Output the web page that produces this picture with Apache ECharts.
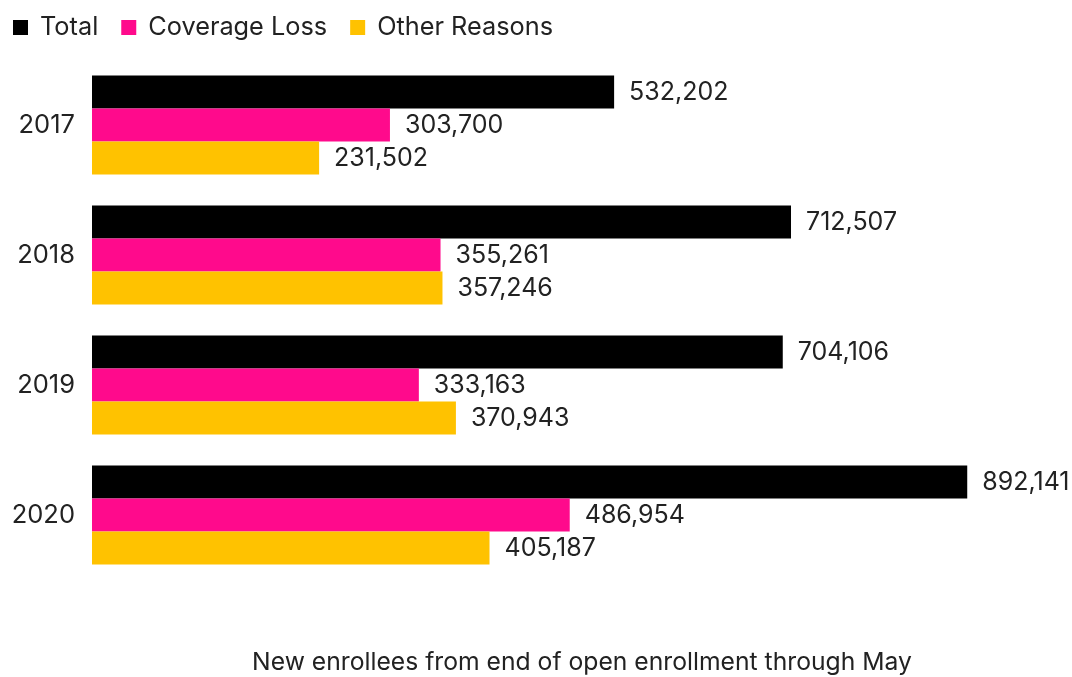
<!DOCTYPE html>
<html><head><meta charset="utf-8">
<script src="https://cdn.jsdelivr.net/npm/echarts@6/dist/echarts.min.js"></script>
<style>html,body{margin:0;padding:0;background:#fff}#c{width:1072px;height:677px}</style>
</head><body><div id="c"></div>
<script>
const categories = ['2017', '2018', '2019', '2020'];
const total = [532202, 712507, 704106, 892141];
const coverageLoss = [303700, 355261, 333163, 486954];
const otherReasons = [231502, 357246, 370943, 405187];
const seriesNames = ['Total', 'Coverage Loss', 'Other Reasons'];
const colors = ['#000000', '#ff0a8c', '#ffc200'];
const axisTitle = 'New enrollees from end of open enrollment through May';

const font = 'Inter, Arial, sans-serif';
const fmt = v => v.toLocaleString('en-US');
const chart = echarts.init(document.getElementById('c'));
const mk = (name, data, color) => ({
  name, type: 'bar', data, barWidth: 33, barGap: '0%',
  itemStyle: { color },
  label: { show: true, position: 'right', distance: 15, color: '#222', fontSize: 25, fontFamily: font,
    formatter: p => fmt(p.value) }
});
chart.setOption({
  animation: false,
  color: colors,
  legend: {
    left: 8, top: 10, itemWidth: 15, itemHeight: 15, itemGap: 23,
    icon: 'rect',
    textStyle: { fontSize: 25.3, color: '#222', fontFamily: font, padding: [0, 0, 0, 7] },
    data: seriesNames
  },
  grid: { left: 92, right: 48, top: 60, bottom: 97 },
  xAxis: { type: 'value', min: 0, max: 950000, show: false },
  yAxis: {
    type: 'category', data: categories, inverse: true,
    axisLine: { show: false }, axisTick: { show: false },
    axisLabel: { fontSize: 25.5, color: '#222', fontFamily: font, margin: 17 }
  },
  graphic: [{ type: 'text', x: 582, y: 663,
    style: { text: axisTitle, fontSize: 24.7, fill: '#222', fontFamily: font, textAlign: 'center', textVerticalAlign: 'middle' } }],
  series: [
    mk(seriesNames[0], total, colors[0]),
    mk(seriesNames[1], coverageLoss, colors[1]),
    mk(seriesNames[2], otherReasons, colors[2])
  ]
});
</script></body></html>
